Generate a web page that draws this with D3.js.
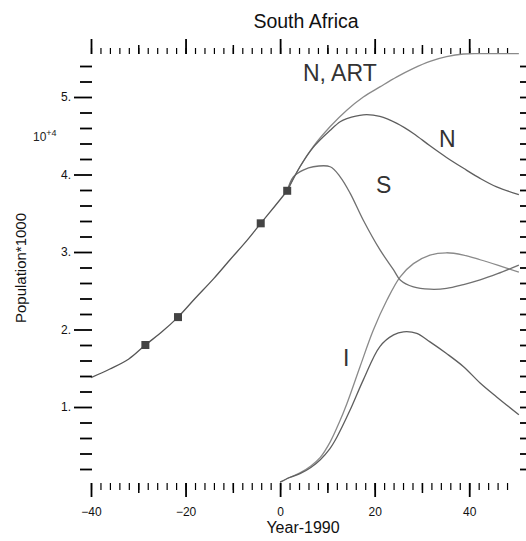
<!DOCTYPE html>
<html>
<head>
<meta charset="utf-8">
<script src="https://cdn.jsdelivr.net/npm/d3@7"></script>
<style>
  body { margin: 0; background: #fff; }
  svg { display: block; font-family: "Liberation Sans", Arial, sans-serif; }
  .tick text { fill: #111; }
</style>
</head>
<body>
<div id="chart"></div>
<script>
// data (year-1990, population*1000 / 10^4)
var pastYears = [-40, -36, -32, -28.5, -25, -21.6, -18, -14, -10.6, -7, -4.1, -1, 1.5],
    pastPop   = [1.38, 1.49, 1.62, 1.80, 1.97, 2.16, 2.40, 2.66, 2.90, 3.15, 3.37, 3.60, 3.79];
var censusYears = [-28.5, -21.6, -4.1, 1.5],
    censusPop   = [1.80, 2.16, 3.37, 3.79];
var nArtYears = [1.5, 4.2, 7.0, 10.6, 14.1, 17.6, 21.1, 24.7, 28.2, 31.7, 35.2, 38.8, 42, 46, 50.5],
    nArtPop   = [3.79, 4.10, 4.36, 4.62, 4.83, 5.00, 5.13, 5.26, 5.37, 5.46, 5.52, 5.555, 5.56, 5.56, 5.56];
var nYears = [1.5, 4.2, 7.0, 10.6, 12.7, 14.1, 17.6, 21.1, 24.7, 28.2, 31.7, 35.2, 38.8, 42.3, 45.8, 50.5],
    nPop   = [3.79, 4.10, 4.35, 4.57, 4.68, 4.72, 4.77, 4.75, 4.66, 4.53, 4.37, 4.22, 4.08, 3.95, 3.84, 3.74];
var sYears = [1.5, 2.8, 5, 7.0, 10.6, 12.7, 14.8, 17.6, 21.1, 24.0, 25.4, 28.2, 31.7, 35.2, 38.8, 42.3, 46, 50.5],
    sPop   = [3.79, 3.97, 4.06, 4.10, 4.10, 3.97, 3.76, 3.41, 3.03, 2.77, 2.64, 2.55, 2.52, 2.53, 2.58, 2.64, 2.72, 2.83];
var iYears = [0, 2, 4.2, 6.5, 8.5, 10.5, 12.0, 14.8, 17.6, 21.1, 24.0, 26.1, 28.9, 31.7, 35.2, 38.8, 42.3, 45.8, 50.5],
    iPop   = [0.03, 0.09, 0.14, 0.22, 0.32, 0.46, 0.61, 0.96, 1.35, 1.78, 1.93, 1.97, 1.95, 1.84, 1.69, 1.52, 1.31, 1.13, 0.90];
var iArtYears = [0, 2, 4.2, 6.5, 8.5, 10.6, 12.5, 14.1, 16.9, 19.7, 22.6, 25.4, 28.2, 31.7, 35.2, 38.8, 42.3, 46, 50.5],
    iArtPop   = [0.03, 0.09, 0.15, 0.24, 0.35, 0.55, 0.80, 1.04, 1.52, 1.99, 2.38, 2.68, 2.85, 2.96, 2.99, 2.96, 2.90, 2.83, 2.74];

// ticks
var xMajor = [-40, -20, 0, 20, 40],
    xMedium = [-30, -10, 10, 30],
    xMinor = d3.range(-40, 49, 2),
    yMajor = [1, 2, 3, 4, 5],
    yMinor = d3.range(1, 28).map(function(i) { return +(i * 0.2).toFixed(1); });

var width = 526, height = 541;

var svg = d3.select("#chart").append("svg")
    .attr("width", width)
    .attr("height", height);
svg.append("rect").attr("width", width).attr("height", height).attr("fill", "#fff");

var x = d3.scaleLinear().domain([-40, 50]).range([91, 516.5]),
    y = d3.scaleLinear().domain([0, 5.6]).range([484.5, 50.5]);

function tidy(g) {
    g.select(".domain").remove();
    g.selectAll(".tick line").attr("stroke", "#000");
}

// bottom and top axes
function xAxis(axisFn, ypos, vals, size, labels, sw) {
    var g = svg.append("g")
        .attr("transform", "translate(0," + ypos + ")")
        .call(axisFn(x).tickValues(vals).tickSize(size).tickPadding(10)
            .tickFormat(labels ? d3.format("d") : ""));
    tidy(g);
    g.selectAll(".tick line").attr("stroke-width", sw);
    g.selectAll(".tick text").attr("font-size", 12).attr("font-family", "Liberation Sans, Arial, sans-serif");
}
xAxis(d3.axisBottom, 483, xMinor, 7, false, 1.2);
xAxis(d3.axisBottom, 483, xMedium, 10, false, 1.5);
xAxis(d3.axisBottom, 483, xMajor, 14, true, 1.8);
xAxis(d3.axisTop, 54, xMinor, 6, false, 1.2);
xAxis(d3.axisTop, 54, xMedium, 9, false, 1.5);
xAxis(d3.axisTop, 54, xMajor, 15, false, 1.8);

// left and right axes
var gl = svg.append("g")
    .attr("transform", "translate(92,0)")
    .call(d3.axisLeft(y).tickValues(yMinor.filter(function(v) { return v % 1 !== 0; }))
        .tickSize(12).tickFormat(""));
tidy(gl);
gl.selectAll(".tick line").attr("stroke-width", 1.8);
var glm = svg.append("g")
    .attr("transform", "translate(92,0)")
    .call(d3.axisLeft(y).tickValues(yMajor).tickSize(18).tickPadding(3)
        .tickFormat(function(d) { return d + "."; }));
tidy(glm);
glm.selectAll(".tick line").attr("stroke-width", 1.8);
glm.selectAll(".tick text").attr("font-size", 12).attr("font-family", "Liberation Sans, Arial, sans-serif");

var gr = svg.append("g")
    .attr("transform", "translate(520,0)")
    .call(d3.axisRight(y).tickValues(yMinor).tickSize(12).tickFormat(""));
tidy(gr);
gr.selectAll(".tick line").attr("stroke-width", 1.8);

// exponent label
var expo = svg.append("text")
    .attr("x", 33).attr("y", 141)
    .attr("font-size", 12).attr("fill", "#222")
    .text("10");
expo.append("tspan").attr("dy", -5).attr("font-size", 9).text("+4");

// curves
var line = d3.line()
    .x(function(d) { return x(d[0]); })
    .y(function(d) { return y(d[1]); })
    .curve(d3.curveCatmullRom.alpha(0.5));

function series(xs, vs) { return xs.map(function(v, i) { return [v, vs[i]]; }); }

var curves = [
    {xs: nArtYears, vs: nArtPop, color: "#8a8a8a"},
    {xs: iArtYears, vs: iArtPop, color: "#8a8a8a"},
    {xs: sYears, vs: sPop, color: "#707070"},
    {xs: nYears, vs: nPop, color: "#5e5e5e"},
    {xs: iYears, vs: iPop, color: "#5e5e5e"},
    {xs: pastYears, vs: pastPop, color: "#555"}
];
svg.append("g").selectAll("path")
    .data(curves)
    .enter().append("path")
    .attr("d", function(c) { return line(series(c.xs, c.vs)); })
    .attr("fill", "none")
    .attr("stroke", function(c) { return c.color; })
    .attr("stroke-width", 1.3);

svg.append("g").selectAll("rect")
    .data(series(censusYears, censusPop))
    .enter().append("rect")
    .attr("x", function(d) { return x(d[0]) - 4; })
    .attr("y", function(d) { return y(d[1]) - 4; })
    .attr("width", 8).attr("height", 8)
    .attr("fill", "#444");

// curve labels
var labels = [
    {t: "N, ART", x: 303, y: 81},
    {t: "N", x: 439, y: 147},
    {t: "S", x: 376, y: 193},
    {t: "I", x: 343, y: 366}
];
svg.append("g").selectAll("text")
    .data(labels)
    .enter().append("text")
    .attr("x", function(d) { return d.x; })
    .attr("y", function(d) { return d.y; })
    .attr("font-size", 23)
    .attr("fill", "#333")
    .text(function(d) { return d.t; });

// titles
svg.append("text")
    .attr("x", 306).attr("y", 28)
    .attr("text-anchor", "middle")
    .attr("font-size", 19.5).attr("fill", "#111")
    .text("South Africa");
svg.append("text")
    .attr("x", 303).attr("y", 533)
    .attr("text-anchor", "middle")
    .attr("font-size", 16).attr("fill", "#111")
    .text("Year-1990");
svg.append("text")
    .attr("transform", "translate(26,268) rotate(-90)")
    .attr("text-anchor", "middle")
    .attr("font-size", 15).attr("fill", "#111")
    .text("Population*1000");
</script>
</body>
</html>
